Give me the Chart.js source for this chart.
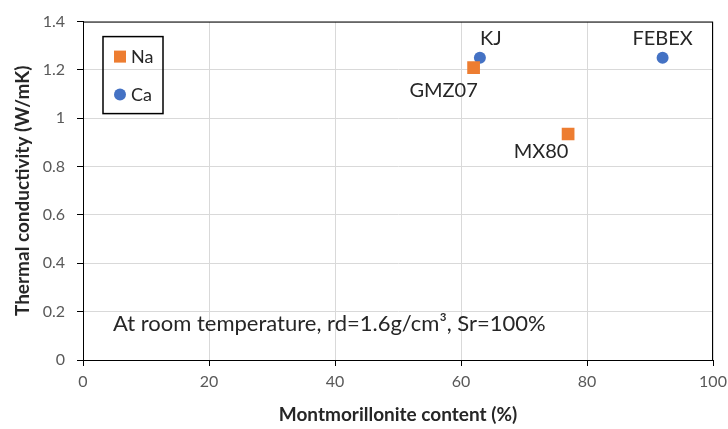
<!DOCTYPE html>
<html lang="en">
<head>
    <meta charset="UTF-8">
    <title>Thermal conductivity vs montmorillonite content</title>
    <script src="https://cdn.jsdelivr.net/npm/chart.js"></script>
    <style>
        html, body { margin: 0; padding: 0; background: #fff; }
        #wrap { width: 728px; height: 429px; }
    </style>
</head>
<body>
    <div id="wrap"><canvas id="tcChart" width="728" height="429"></canvas></div>
    <script>
        // bentonite samples: montmorillonite content (%) vs thermal conductivity (W/mK)
        const naNames = ['GMZ07', 'MX80'];
        const naContent = [62, 77];
        const naConductivity = [1.21, 0.935];

        const caNames = ['KJ', 'FEBEX'];
        const caContent = [63, 92];
        const caConductivity = [1.25, 1.25];

        const xTicks = [0, 20, 40, 60, 80, 100];
        const yTicks = [0, 0.2, 0.4, 0.6, 0.8, 1, 1.2, 1.4];

        const FONT = 'Lato, "Open Sans", sans-serif';

        // where each sample name sits relative to its marker
        const labelOffsets = {
            GMZ07: [-30, 23],
            MX80: [-27, 18],
            KJ: [11, -19],
            FEBEX: [0, -19]
        };

        const toPoints = (xs, ys) => xs.map((x, i) => ({ x: x, y: ys[i] }));

        const extras = {
            id: 'extras',
            afterDatasetsDraw(chart) {
                const ctx = chart.ctx;
                const a = chart.chartArea;
                ctx.save();
                // plot frame
                ctx.strokeStyle = '#000';
                ctx.lineWidth = 1;
                ctx.strokeRect(a.left + 0.5, a.top + 0.5, a.right - a.left - 1, a.bottom - a.top);

                // sample names next to markers
                ctx.font = '20px ' + FONT;
                ctx.fillStyle = '#262626';
                ctx.textAlign = 'center';
                ctx.textBaseline = 'middle';
                chart.data.datasets.forEach((ds, di) => {
                    const meta = chart.getDatasetMeta(di);
                    meta.data.forEach((pt, i) => {
                        const name = ds.names[i];
                        const off = labelOffsets[name] || [0, -18];
                        ctx.fillText(name, pt.x + off[0], pt.y + off[1]);
                    });
                });

                // note about test conditions
                ctx.textAlign = 'left';
                ctx.font = '22px ' + FONT;
                ctx.fillText('At room temperature, rd=1.6g/cm³, Sr=100%', a.left + 30, chart.scales.y.getPixelForValue(0.15));

                // boxed legend inside the plot
                const bx = a.left + 20, by = a.top + 15, bw = 60, bh = 77;
                ctx.lineWidth = 1.5;
                ctx.strokeStyle = '#000';
                ctx.strokeRect(bx, by, bw, bh);
                ctx.font = '18px ' + FONT;
                chart.data.datasets.forEach((ds, di) => {
                    const cy = by + 20 + di * 38;
                    const cx = bx + 17;
                    ctx.fillStyle = ds.backgroundColor;
                    if (ds.pointStyle === 'rect') {
                        ctx.fillRect(cx - 6, cy - 6, 12, 12);
                    } else {
                        ctx.beginPath();
                        ctx.arc(cx, cy, 6, 0, Math.PI * 2);
                        ctx.fill();
                    }
                    ctx.fillStyle = '#262626';
                    ctx.fillText(ds.label, cx + 11, cy + 1);
                });
                ctx.restore();
            }
        };

        new Chart(document.getElementById('tcChart'), {
            type: 'scatter',
            data: {
                datasets: [{
                    label: 'Na',
                    names: naNames,
                    data: toPoints(naContent, naConductivity),
                    pointStyle: 'rect',
                    pointRadius: 9,
                    pointHoverRadius: 9,
                    backgroundColor: '#ED7D31',
                    borderColor: '#ED7D31',
                    borderWidth: 0
                }, {
                    label: 'Ca',
                    names: caNames,
                    data: toPoints(caContent, caConductivity),
                    pointStyle: 'circle',
                    pointRadius: 6,
                    pointHoverRadius: 6,
                    backgroundColor: '#4472C4',
                    borderColor: '#4472C4',
                    borderWidth: 0
                }]
            },
            options: {
                responsive: false,
                animation: false,
                layout: { padding: { top: 17, right: 15, left: 0, bottom: 0 } },
                plugins: {
                    legend: { display: false },
                    tooltip: { enabled: false }
                },
                scales: {
                    x: {
                        type: 'linear',
                        min: 0,
                        max: 100,
                        afterBuildTicks: s => { s.ticks = xTicks.map(v => ({ value: v })); },
                        afterFit: s => { s.height = 69; s.paddingRight = 0; s.paddingLeft = 0; },
                        grid: { color: '#d9d9d9', tickColor: '#000', tickLength: 6, lineWidth: 1 },
                        border: { color: '#000', width: 1 },
                        ticks: { color: '#595959', font: { family: FONT, size: 16 }, padding: 6, maxRotation: 0 },
                        title: {
                            display: true,
                            text: 'Montmorillonite content (%)',
                            color: '#262626',
                            font: { family: FONT, size: 19, weight: 'bold' },
                            padding: { top: 0, bottom: 3 }
                        }
                    },
                    y: {
                        type: 'linear',
                        min: 0,
                        max: 1.4,
                        afterBuildTicks: s => { s.ticks = yTicks.map(v => ({ value: v })); },
                        afterFit: s => { s.width = 83; },
                        grid: { color: '#d9d9d9', tickColor: '#000', tickLength: 6, lineWidth: 1 },
                        border: { color: '#000', width: 1 },
                        ticks: {
                            color: '#595959',
                            font: { family: FONT, size: 16 },
                            padding: 12,
                            callback: v => String(Math.round(v * 10) / 10)
                        },
                        title: {
                            display: true,
                            text: 'Thermal conductivity (W/mK)',
                            color: '#262626',
                            font: { family: FONT, size: 19, weight: 'bold' },
                            padding: { top: 11, bottom: 0 }
                        }
                    }
                }
            },
            plugins: [extras]
        });
    </script>
</body>
</html>
